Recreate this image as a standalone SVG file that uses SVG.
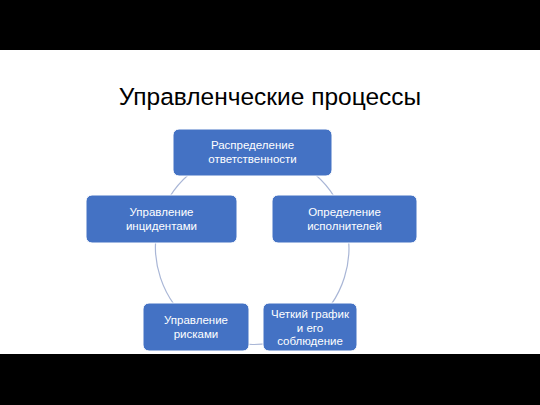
<svg xmlns="http://www.w3.org/2000/svg" width="540" height="405" viewBox="0 0 540 405">
<style>
.bar{fill:#000}
.node rect{fill:#4472C4;stroke:#ffffff;stroke-width:1}
.node text{fill:#ffffff;font-family:"Liberation Sans",Arial,sans-serif;font-size:11.5px;text-anchor:middle}
.conn path{fill:none;stroke:#A9B6D6;stroke-width:1.2}
.title{font-family:"Liberation Sans",Arial,sans-serif;font-size:24.5px;fill:#000;text-anchor:middle}
</style>
<rect x="0" y="0" width="540" height="405" fill="#ffffff"/>
<rect class="bar" x="0" y="0" width="540" height="50"/>
<rect class="bar" x="0" y="354" width="540" height="51"/>
<text class="title" x="270" y="105">Управленческие процессы</text>
<g class="conn" id="connectors">
<path d="M252,151 A97,97 0 0 1 344,218"/>
<path d="M344,218 A97,97 0 0 1 310,326"/>
<path d="M310,326 A97,97 0 0 1 196,326"/>
<path d="M196,326 A97,97 0 0 1 160,218"/>
<path d="M160,218 A97,97 0 0 1 252,151"/>
</g>
<g class="node" id="n1">
<rect x="173" y="129" width="159" height="47" rx="6"/>
<text x="252.5" y="149">Распределение</text>
<text x="252.5" y="163">ответственности</text>
</g>
<g class="node" id="n2">
<rect x="272" y="195" width="145" height="48" rx="6"/>
<text x="344.5" y="216">Определение</text>
<text x="344.5" y="230">исполнителей</text>
</g>
<g class="node" id="n3">
<rect x="263" y="303" width="94" height="48" rx="6"/>
<text x="310" y="318">Четкий график</text>
<text x="310" y="331.5">и его</text>
<text x="310" y="345">соблюдение</text>
</g>
<g class="node" id="n4">
<rect x="143" y="303" width="106" height="48" rx="6"/>
<text x="196" y="324">Управление</text>
<text x="196" y="338">рисками</text>
</g>
<g class="node" id="n5">
<rect x="86" y="195" width="151" height="48" rx="6"/>
<text x="161.5" y="216">Управление</text>
<text x="161.5" y="230">инцидентами</text>
</g>
</svg>
